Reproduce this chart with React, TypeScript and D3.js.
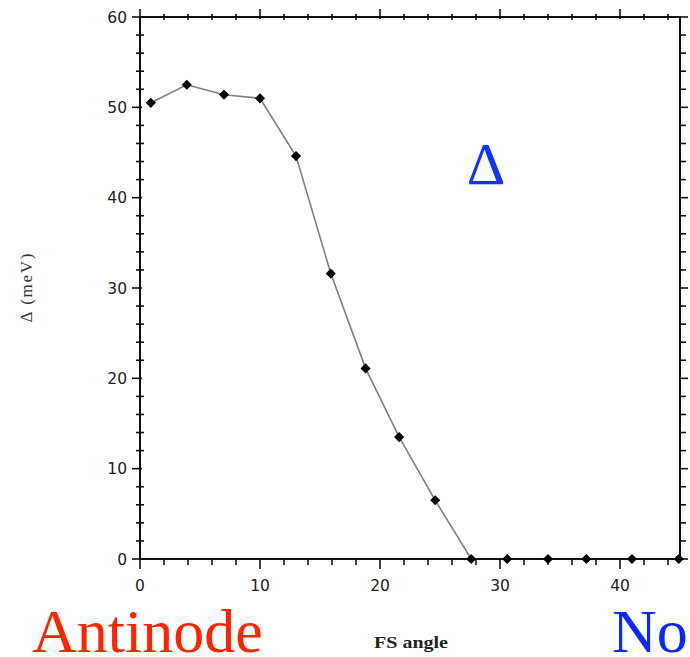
import React from "react";
import * as d3 from "d3";

// Superconducting gap vs Fermi-surface angle
const angles = [0.9, 3.9, 7.0, 10.0, 13.0, 15.9, 18.8, 21.6, 24.6, 27.6, 30.6, 34.0, 37.2, 41.0, 44.9];
const gapMeV = [50.5, 52.5, 51.4, 51.0, 44.6, 31.6, 21.1, 13.5, 6.5, 0, 0, 0, 0, 0, 0];
const xMajorTicks = [0, 10, 20, 30, 40];
const yMajorTicks = [0, 10, 20, 30, 40, 50, 60];

const W = 690;
const H = 657;
const serif = "'Liberation Serif', 'Times New Roman', serif";
const sans = "'DejaVu Sans', Verdana, sans-serif";

export default function App() {
  const x = d3.scaleLinear().domain([0, 45]).range([140, 680]);
  const y = d3.scaleLinear().domain([0, 60]).range([559, 17]);

  const [x0, x1] = x.range();
  const [y0, y1] = y.range();

  const xMinor = d3.range(0, 46, 2).filter((v) => v % 10 !== 0);
  const yMinor = d3.range(0, 61, 2).filter((v) => v % 10 !== 0);

  const line = d3
    .line<number>()
    .x((_, i) => x(angles[i]))
    .y((d) => y(d));

  const marker = d3.symbol().type(d3.symbolDiamond2).size(66)();

  const tickStroke = { stroke: "#111", strokeWidth: 1.6 };

  return (
    <svg
      width={W}
      height={H}
      style={{ position: "absolute", left: 0, top: 0, background: "#fff" }}
    >
      {/* data line */}
      <path d={line(gapMeV) ?? ""} fill="none" stroke="#7f7f7f" strokeWidth={1.6} />

      {/* frame */}
      <rect
        x={x0}
        y={y1}
        width={x1 - x0}
        height={y0 - y1}
        fill="none"
        stroke="#111"
        strokeWidth={2}
      />

      {/* left & right ticks */}
      {yMajorTicks.map((v) => (
        <g key={"ym" + v}>
          <line x1={x0 - 8} x2={x0 + 2} y1={y(v)} y2={y(v)} {...tickStroke} />
          <line x1={x1} x2={x1 + 8} y1={y(v)} y2={y(v)} {...tickStroke} />
          <text
            x={x0 - 13}
            y={y(v)}
            dy="0.36em"
            textAnchor="end"
            fontFamily={sans}
            fontSize={15.5}
            fill="#222"
          >
            {v}
          </text>
        </g>
      ))}
      {yMinor.map((v) => (
        <g key={"yn" + v}>
          <line x1={x0 - 4} x2={x0 + 4} y1={y(v)} y2={y(v)} {...tickStroke} />
          <line x1={x1} x2={x1 + 6} y1={y(v)} y2={y(v)} {...tickStroke} />
        </g>
      ))}

      {/* top & bottom ticks */}
      {xMajorTicks.map((v) => (
        <g key={"xm" + v}>
          <line x1={x(v)} x2={x(v)} y1={y1 - 8} y2={y1 + 2} {...tickStroke} />
          <line x1={x(v)} x2={x(v)} y1={y0} y2={y0 + 10} {...tickStroke} />
          <text
            x={x(v)}
            y={591}
            textAnchor="middle"
            fontFamily={sans}
            fontSize={15.5}
            fill="#222"
          >
            {v}
          </text>
        </g>
      ))}
      {xMinor.map((v) => (
        <g key={"xn" + v}>
          <line x1={x(v)} x2={x(v)} y1={y1 - 3} y2={y1 + 3} {...tickStroke} />
          <line x1={x(v)} x2={x(v)} y1={y0} y2={y0 + 6} {...tickStroke} />
        </g>
      ))}

      {/* markers */}
      {gapMeV.map((d, i) => (
        <path
          key={"p" + i}
          d={marker ?? ""}
          transform={`translate(${x(angles[i])},${y(d)})`}
          fill="#000"
        />
      ))}

      {/* axis titles */}
      <text
        transform="translate(32,288) rotate(-90)"
        textAnchor="middle"
        fontFamily={serif}
        fontSize={17}
        textLength={69}
        lengthAdjust="spacing"
        fill="#333"
      >
        Δ (meV)
      </text>
      <text
        x={374}
        y={648}
        fontFamily={serif}
        fontSize={17}
        textLength={74}
        lengthAdjust="spacingAndGlyphs"
        fill="#222"
        fontWeight="bold"
      >
        FS angle
      </text>

      {/* annotations */}
      <text x={486} y={184} textAnchor="middle" fontFamily={serif} fontSize={60} fill="#1034ff">
        Δ
      </text>
      <text x={32} y={652} fontFamily={serif} fontSize={62} fill="#ff2400">
        Antinode
      </text>
      <text x={612} y={652} fontFamily={serif} fontSize={62} fill="#0a28ff">
        No
      </text>
    </svg>
  );
}
